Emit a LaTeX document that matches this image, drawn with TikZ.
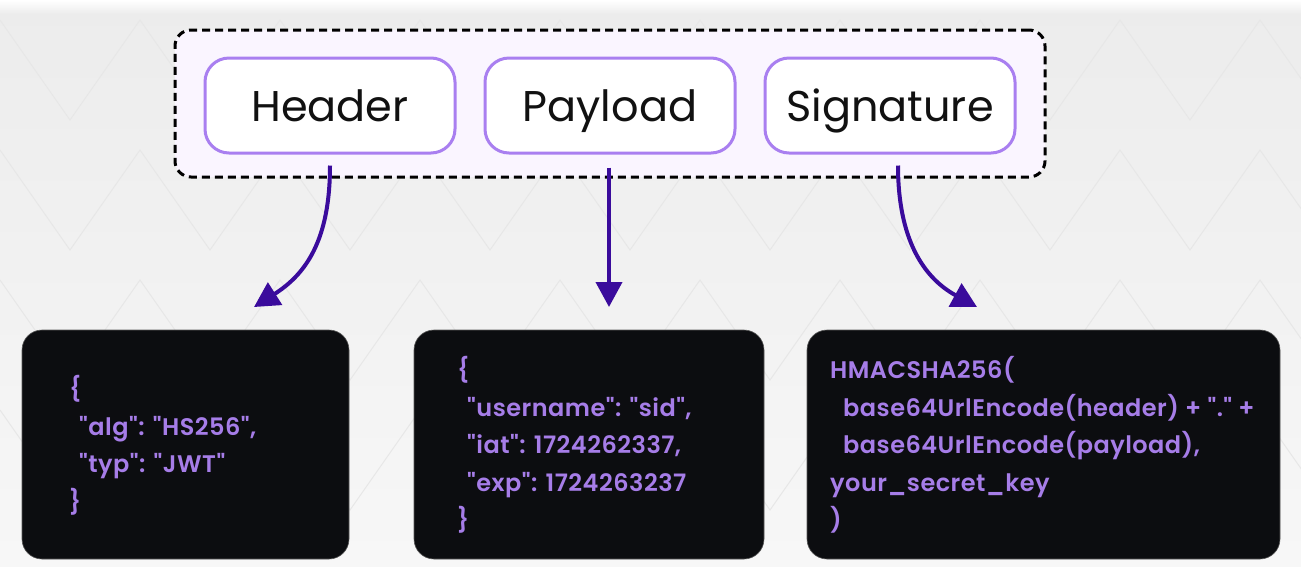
\documentclass[tikz,border=0pt]{standalone}
\usepackage{fontspec}
\setmainfont{Poppins}
\newfontfamily\codefont{Poppins SemiBold}[LetterSpace=2]
\usetikzlibrary{arrows.meta}
\definecolor{bgtop}{HTML}{ECECEC}
\definecolor{bgbot}{HTML}{F7F7F7}
\definecolor{bgline}{HTML}{E7E7E7}
\definecolor{lav}{HTML}{FAF5FF}
\definecolor{boxpurple}{HTML}{A97FF0}
\definecolor{arrowc}{HTML}{3A0B9C}
\definecolor{codebg}{HTML}{0C0D10}
\definecolor{codetxt}{HTML}{A67DE8}
\definecolor{inktxt}{HTML}{111111}
\begin{document}
\begin{tikzpicture}[x=1pt,y=-1pt,
  partbox/.style={draw=boxpurple, line width=3pt, fill=white, rounded corners=24pt,
    minimum width=250pt, minimum height=95pt, inner sep=0pt,
    text height=32pt, text depth=0pt,
    font=\fontsize{43}{50}\selectfont, text=inktxt},
  container/.style={draw=black, line width=3pt, dash pattern=on 8pt off 5pt, fill=lav,
    rounded corners=16pt, minimum width=870pt, minimum height=147pt, inner sep=0pt},
  codebox/.style={fill=codebg, draw=black!65, line width=0.6pt, rounded corners=20pt,
    minimum height=229pt, inner sep=0pt},
  codeline/.style={anchor=base west, inner sep=0pt, text=codetxt,
    font=\codefont\fontsize{24}{28}\selectfont},
  flow/.style={draw=arrowc, line width=4pt, -{Triangle[length=25pt,width=26pt]}},
  bgpat/.style={draw=bgline, line width=1pt}
]
% background
\shade[top color=bgtop, bottom color=bgbot] (0,0) rectangle (1301,566);
\shade[top color=white, bottom color=bgtop] (0,0) rectangle (1301,14);
\useasboundingbox (0,0) rectangle (1301,566);
% faint chevron pattern
\foreach \r in {0,130,260,390}{
  \draw[bgpat] (0,20+\r) \foreach \k in {0,...,9}{ -- (70+140*\k,120+\r) -- (140+140*\k,20+\r)};
}

% container and parts
\node[container] (jwt) at (610,103.5) {};
\node[partbox] (hdr) at (330,105.5) {Header};
\node[partbox] (pld) at (610,105.5) {Payload};
\node[partbox] (sig) at (890,105.5) {Signature};

% code boxes
\node[codebox, minimum width=327pt] (c1) at (185.5,444.5) {};
\node[codebox, minimum width=350pt] (c2) at (589,444.5) {};
\node[codebox, minimum width=473pt] (c3) at (1043.5,444.5) {};

% arrow end points
\coordinate (t1) at (254,307);
\coordinate (t2) at (609,307);
\coordinate (t3) at (977,307);

\draw[flow] ([yshift=-11pt]hdr.south) .. controls (330,240) and (306,274) .. (t1);
\draw[flow] ([yshift=-13pt,xshift=-1pt]pld.south) -- (t2);
\draw[flow] ([yshift=-11pt,xshift=8pt]sig.south) .. controls (898,240) and (924,278) .. (t3);

% code text: header
\node[codeline] (h1) at (69,397) {\{};
\node[codeline] (h2) at (79,435) {"alg": "HS256",};
\node[codeline] (h3) at (79,472) {"typ": "JWT"};
\node[codeline] (h4) at (69,510) {\}};

% code text: payload
\node[codeline] (p1) at (457,378) {\{};
\node[codeline] (p2) at (467,416) {"username": "sid",};
\node[codeline] (p3) at (467,453) {"iat": 1724262337,};
\node[codeline] (p4) at (467,491) {"exp": 1724263237};
\node[codeline] (p5) at (457,528) {\}};

% code text: signature
\node[codeline] (s1) at (830,378) {HMACSHA256(};
\node[codeline] (s2) at (843,416) {base64UrlEncode(header) + "." +};
\node[codeline] (s3) at (843,453) {base64UrlEncode(payload),};
\node[codeline] (s4) at (830,491) {your\_secret\_key};
\node[codeline] (s5) at (830,528) {)};
\end{tikzpicture}
\end{document}
